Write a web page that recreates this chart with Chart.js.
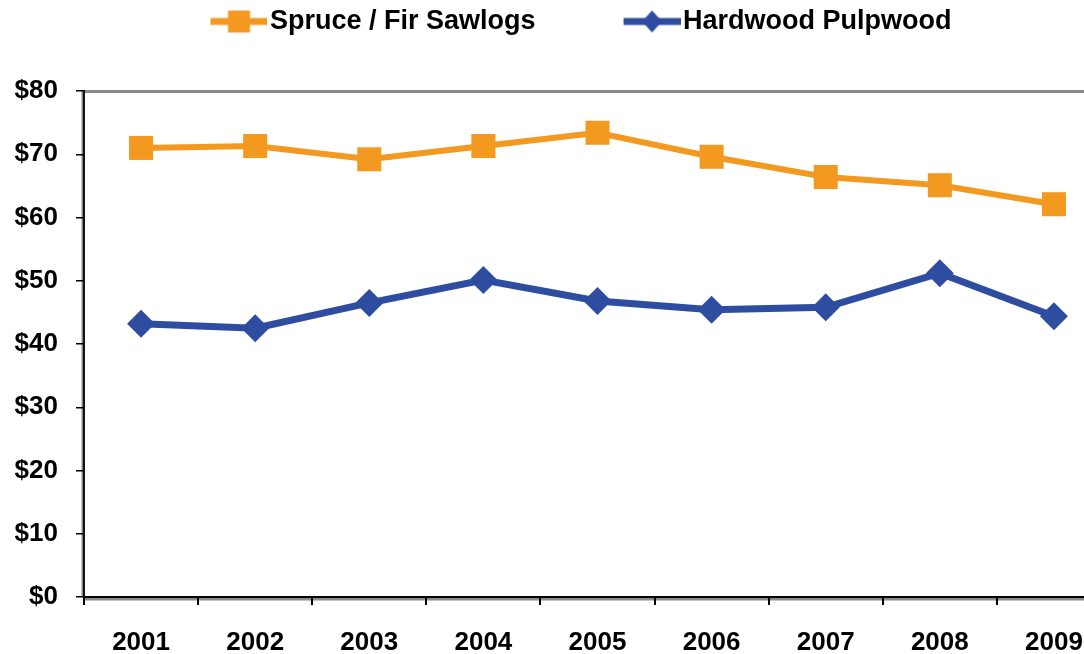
<!DOCTYPE html>
<html>
<head>
<meta charset="utf-8">
<script src="https://cdn.jsdelivr.net/npm/chart.js@4"></script>
<style>
    html, body { margin: 0; padding: 0; background: #fff; overflow: hidden; }
    #wrap { width: 1128px; height: 654px; }
</style>
</head>
<body>
<div id="wrap"><canvas id="priceChart"></canvas></div>
<script>
// Chart data
const years = ['2001', '2002', '2003', '2004', '2005', '2006', '2007', '2008', '2009'];
const spruceFir = [71.0, 71.3, 69.2, 71.3, 73.4, 69.6, 66.4, 65.1, 62.1];
const hardwood = [43.2, 42.5, 46.5, 50.1, 46.8, 45.4, 45.8, 51.2, 44.4];
const yTicks = [0, 10, 20, 30, 40, 50, 60, 70, 80];

const orange = '#F4991F';
const blue = '#2E4DA0';
const fontFamily = '"Liberation Sans", Arial, sans-serif';

// Legend symbol: short line with the marker on it
function legendSymbol(color, shape) {
    const c = document.createElement('canvas');
    c.width = 150;
    c.height = 30;
    const ctx = c.getContext('2d');
    const x0 = c.width - 57, cx = x0 + 28.5, cy = 15;
    ctx.strokeStyle = color;
    ctx.lineWidth = 7;
    ctx.beginPath();
    ctx.moveTo(x0, cy);
    ctx.lineTo(c.width, cy);
    ctx.stroke();
    ctx.fillStyle = color;
    if (shape === 'rect') {
        ctx.fillRect(cx - 11, cy - 11, 22, 22);
    } else {
        ctx.beginPath();
        ctx.moveTo(cx - 10, cy);
        ctx.lineTo(cx, cy - 11);
        ctx.lineTo(cx + 10, cy);
        ctx.lineTo(cx, cy + 11);
        ctx.closePath();
        ctx.fill();
    }
    return c;
}

const frame = {
    id: 'frame',
    beforeLayout(chart) {
        const lg = chart.legend;
        if (lg && !lg._tall) {
            const fit = lg.fit;
            lg.fit = function() {
                fit.call(this);
                this.height += 48;
            };
            lg._tall = true;
        }
    },
    afterLayout(chart) {
        // legend sits a bit left of centre in the original
        chart.legend.left -= 30;
        chart.legend.right -= 30;
        chart.legend.top += 2;
    },
    beforeDraw(chart) {
        const {ctx, chartArea: a} = chart;
        ctx.save();
        ctx.strokeStyle = '#8a8a8a';
        ctx.lineWidth = 3;
        ctx.beginPath();
        ctx.moveTo(a.left, a.top + 0.5);
        ctx.lineTo(a.right, a.top + 0.5);
        ctx.moveTo(a.left, a.bottom + 2);
        ctx.lineTo(a.right, a.bottom + 2);
        ctx.moveTo(a.left - 1, a.top);
        ctx.lineTo(a.left - 1, a.bottom);
        ctx.stroke();
        ctx.restore();
    }
};

const ctx = document.getElementById('priceChart').getContext('2d');
const priceChart = new Chart(ctx, {
    type: 'line',
    data: {
        labels: years,
        datasets: [
            {
                label: 'Spruce / Fir Sawlogs',
                data: spruceFir,
                borderColor: orange,
                backgroundColor: orange,
                borderWidth: 6,
                pointStyle: 'rect',
                pointRadius: 17,
                pointBorderWidth: 0,
                tension: 0
            },
            {
                label: 'Hardwood Pulpwood',
                data: hardwood,
                borderColor: blue,
                backgroundColor: blue,
                borderWidth: 7,
                pointStyle: 'rectRot',
                pointRadius: 14,
                pointBorderWidth: 0,
                tension: 0
            }
        ]
    },
    options: {
        responsive: true,
        maintainAspectRatio: false,
        animation: false,
        layout: { padding: { left: 14, right: 2, top: 0, bottom: 0 } },
        plugins: {
            legend: {
                position: 'top',
                labels: {
                    usePointStyle: true,
                    pointStyleWidth: 128,
                    padding: 6,
                    color: '#000',
                    font: { family: fontFamily, size: 27, weight: 'bold' },
                    generateLabels(chart) {
                        return chart.data.datasets.map((ds, i) => ({
                            text: ds.label,
                            datasetIndex: i,
                            fontColor: '#000',
                            pointStyle: legendSymbol(ds.borderColor, ds.pointStyle === 'rect' ? 'rect' : 'diamond'),
                            hidden: false,
                            lineWidth: 0
                        }));
                    }
                }
            },
            tooltip: { enabled: false }
        },
        scales: {
            x: {
                offset: true,
                border: { color: '#000', width: 2 },
                grid: { display: true, drawOnChartArea: false, drawTicks: true, tickLength: 8, color: '#000', lineWidth: 2, offset: true },
                afterFit(axis) {
                    axis.height = 57;
                },
                ticks: {
                    color: '#000',
                    padding: 22,
                    maxRotation: 0,
                    font: { family: fontFamily, size: 26, weight: 'bold' }
                }
            },
            y: {
                min: yTicks[0],
                max: yTicks[yTicks.length - 1],
                border: { color: '#111', width: 2 },
                grid: { display: true, drawOnChartArea: false, drawTicks: true, tickLength: 8, color: '#000', lineWidth: 1.5 },
                afterBuildTicks(axis) {
                    axis.ticks = yTicks.map(v => ({ value: v }));
                },
                afterFit(axis) {
                    axis.width = 70;
                },
                ticks: {
                    color: '#000',
                    padding: 18,
                    font: { family: fontFamily, size: 26, weight: 'bold' },
                    callback: v => '$' + v
                }
            }
        }
    },
    plugins: [frame]
});
</script>
</body>
</html>
